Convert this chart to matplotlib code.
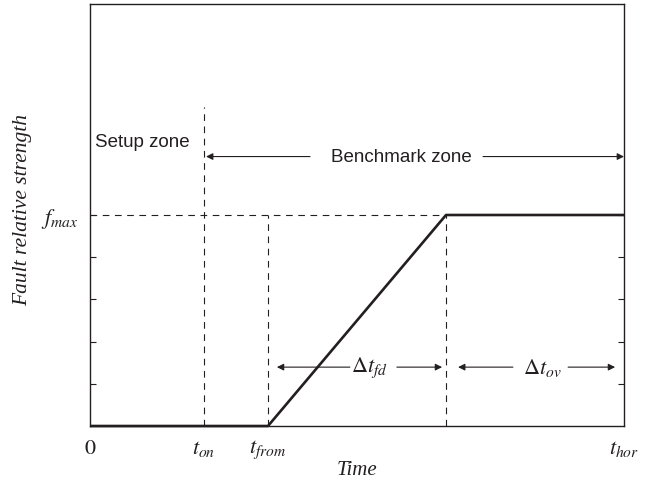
import matplotlib.pyplot as plt

plt.rcParams.update({
    "mathtext.fontset": "stix",
    "font.family": "sans-serif",
    "font.sans-serif": ["Liberation Sans", "DejaVu Sans"],
})

INK = "#231f20"

# fault profile (time in arbitrary units, strength relative to f_max)
profile_time = [0, 5, 10, 15]
profile_strength = [0, 0, 1, 1]

t_on = 3.2
t_from = 5
t_fd_end = 10
t_hor = 15
f_max = 1

xtick_pos = [0, t_on, t_from, t_hor]
xtick_labels = [r"$0$", r"$t_{on}$", r"$t_{from}$", r"$t_{hor}$"]
ytick_pos = [0.2, 0.4, 0.6, 0.8, f_max]
ytick_labels = ["", "", "", "", r"$f_{max}$"]

fig = plt.figure(figsize=(6.49, 4.81), dpi=100)
ax = fig.add_axes([90 / 649, 54 / 481, 534 / 649, 422 / 481])

dash = dict(color=INK, lw=0.8, ls=(0, (6, 5)))
ax.plot([t_on, t_on], [0, 1.51], **dash)
ax.plot([t_from, t_from], [0, f_max], **dash)
ax.plot([t_fd_end, t_fd_end], [0, f_max], **dash)
ax.plot([0, t_fd_end], [f_max, f_max], **dash)

ax.plot(profile_time, profile_strength, color=INK, lw=1.9, solid_capstyle="butt",
        clip_on=False, zorder=5)

arrow = dict(arrowstyle="-|>", lw=0.8, color=INK, mutation_scale=10,
             shrinkA=0, shrinkB=0)

# zones
ax.text(1.47, 1.35, "Setup zone", ha="center", va="center", fontsize=13.5, color=INK)
ax.annotate("", xy=(3.26, 1.277), xytext=(6.18, 1.277), arrowprops=arrow)
ax.annotate("", xy=(15.0, 1.277), xytext=(11.04, 1.277), arrowprops=arrow)
ax.text(8.74, 1.277, "Benchmark zone", ha="center", va="center", fontsize=13.5, color=INK)

# durations
yd = 0.279
ax.annotate("", xy=(5.25, yd), xytext=(7.30, yd), arrowprops=arrow)
ax.annotate("", xy=(9.89, yd), xytext=(8.62, yd), arrowprops=arrow)
ax.text(7.85, yd, r"$\Delta t_{fd}$", ha="center", va="center", fontsize=16, color=INK)
ax.annotate("", xy=(10.34, yd), xytext=(11.88, yd), arrowprops=arrow)
ax.annotate("", xy=(14.75, yd), xytext=(13.43, yd), arrowprops=arrow)
ax.text(12.7, yd, r"$\Delta t_{ov}$", ha="center", va="center", fontsize=16, color=INK)

ax.set_xlim(0, t_hor)
ax.set_ylim(0, 2)
ax.set_xticks(xtick_pos)
ax.set_xticklabels(xtick_labels, fontsize=16, color=INK)
ax.set_yticks(ytick_pos)
ax.set_yticklabels(ytick_labels, fontsize=16, color=INK)
ax.tick_params(axis="x", length=0, pad=8)
ax.tick_params(axis="y", direction="in", length=4, width=0.8, right=True, pad=8,
               color=INK)
for s in ax.spines.values():
    s.set_linewidth(1.0)
    s.set_color(INK)

ax.set_xlabel("Time", fontsize=15, family="Liberation Serif", style="italic",
              color=INK, labelpad=0)
ax.set_ylabel("Fault relative strength", fontsize=15.5, family="Liberation Serif",
              style="italic", color=INK)
ax.yaxis.set_label_coords(-0.109, (427 - 210) / 422)

fig.savefig("out.png", dpi=100)
